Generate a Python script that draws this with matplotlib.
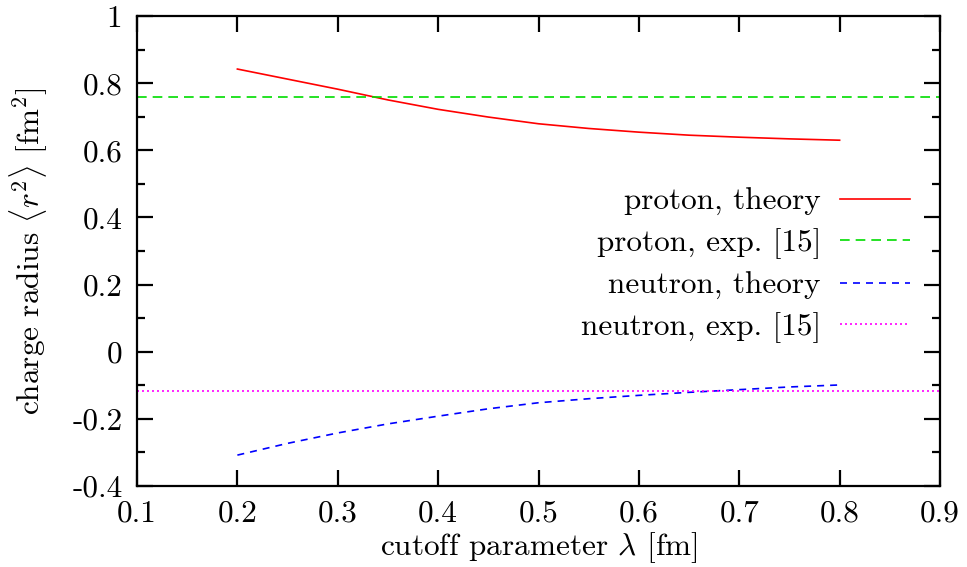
import matplotlib
matplotlib.use("Agg")
import matplotlib.pyplot as plt
from matplotlib.ticker import MultipleLocator

plt.rcParams['font.family'] = ['cmr10']
plt.rcParams['mathtext.fontset'] = 'cm'
plt.rcParams['axes.unicode_minus'] = False

# data
lam = [0.2, 0.25, 0.3, 0.35, 0.4, 0.45, 0.5, 0.55, 0.6, 0.65, 0.7, 0.75, 0.8]
proton_theory = [0.842, 0.812, 0.782, 0.750, 0.722, 0.699, 0.679, 0.665, 0.654, 0.645, 0.639, 0.634, 0.630]
neutron_theory = [-0.308, -0.273, -0.242, -0.215, -0.192, -0.170, -0.152, -0.140, -0.130, -0.121, -0.113, -0.105, -0.099]
proton_exp = 0.758
neutron_exp = -0.116
xlim = (0.1, 0.9)
ylim = (-0.4, 1.0)
xticks = [0.1, 0.2, 0.3, 0.4, 0.5, 0.6, 0.7, 0.8, 0.9]
xticklabels = ['0.1', '0.2', '0.3', '0.4', '0.5', '0.6', '0.7', '0.8', '0.9']
yticks = [-0.4, -0.2, 0.0, 0.2, 0.4, 0.6, 0.8, 1.0]
yticklabels = ['-0.4', '-0.2', '0', '0.2', '0.4', '0.6', '0.8', '1']
labels = ['proton, theory', 'proton, exp. [15]', 'neutron, theory', 'neutron, exp. [15]']

FS = 22.5

fig = plt.figure(figsize=(9.67, 5.67), dpi=100)
ax = fig.add_axes([137/967, 1-486/567, (940-137)/967, (486-16)/567])

lw = 1.2
ax.plot(lam, proton_theory, color='#ff0000', lw=lw, label=labels[0])
ax.axhline(proton_exp, color='#00dd00', lw=lw, ls=(0, (5.8, 3.6)), label=labels[1])
ax.plot(lam, neutron_theory, color='#0000ff', lw=lw, ls=(0, (4.2, 3.6)), label=labels[2])
ax.axhline(neutron_exp, color='#ff00ff', lw=lw, ls=(0, (1.2, 1.8)), label=labels[3])

ax.set_xlim(*xlim)
ax.set_ylim(*ylim)
ax.set_xticks(xticks)
ax.set_xticklabels(xticklabels)
ax.set_yticks(yticks)
ax.set_yticklabels(yticklabels)
ax.yaxis.set_minor_locator(MultipleLocator(0.1))

for s in ax.spines.values():
    s.set_linewidth(1.6)
ax.tick_params(which='both', direction='in', top=True, right=True, width=1.6, labelsize=FS)
ax.tick_params(which='major', length=11.5)
ax.tick_params(which='minor', length=6)
ax.tick_params(axis='x', pad=10)
ax.tick_params(axis='y', pad=10.5)

ax.set_xlabel(r'cutoff parameter $\lambda$ [fm]', fontsize=FS, labelpad=2)
ax.set_ylabel(r'charge radius $\langle r^2\rangle$ [fm$^2$]', fontsize=FS, labelpad=16)

leg = ax.legend(loc='center right', bbox_to_anchor=(0.9626, 0.469), frameon=False,
                markerfirst=False, fontsize=FS, handlelength=2.25, handletextpad=0.6,
                labelspacing=0.4, borderpad=0, borderaxespad=0)

fig.savefig('out.png', dpi=100)
